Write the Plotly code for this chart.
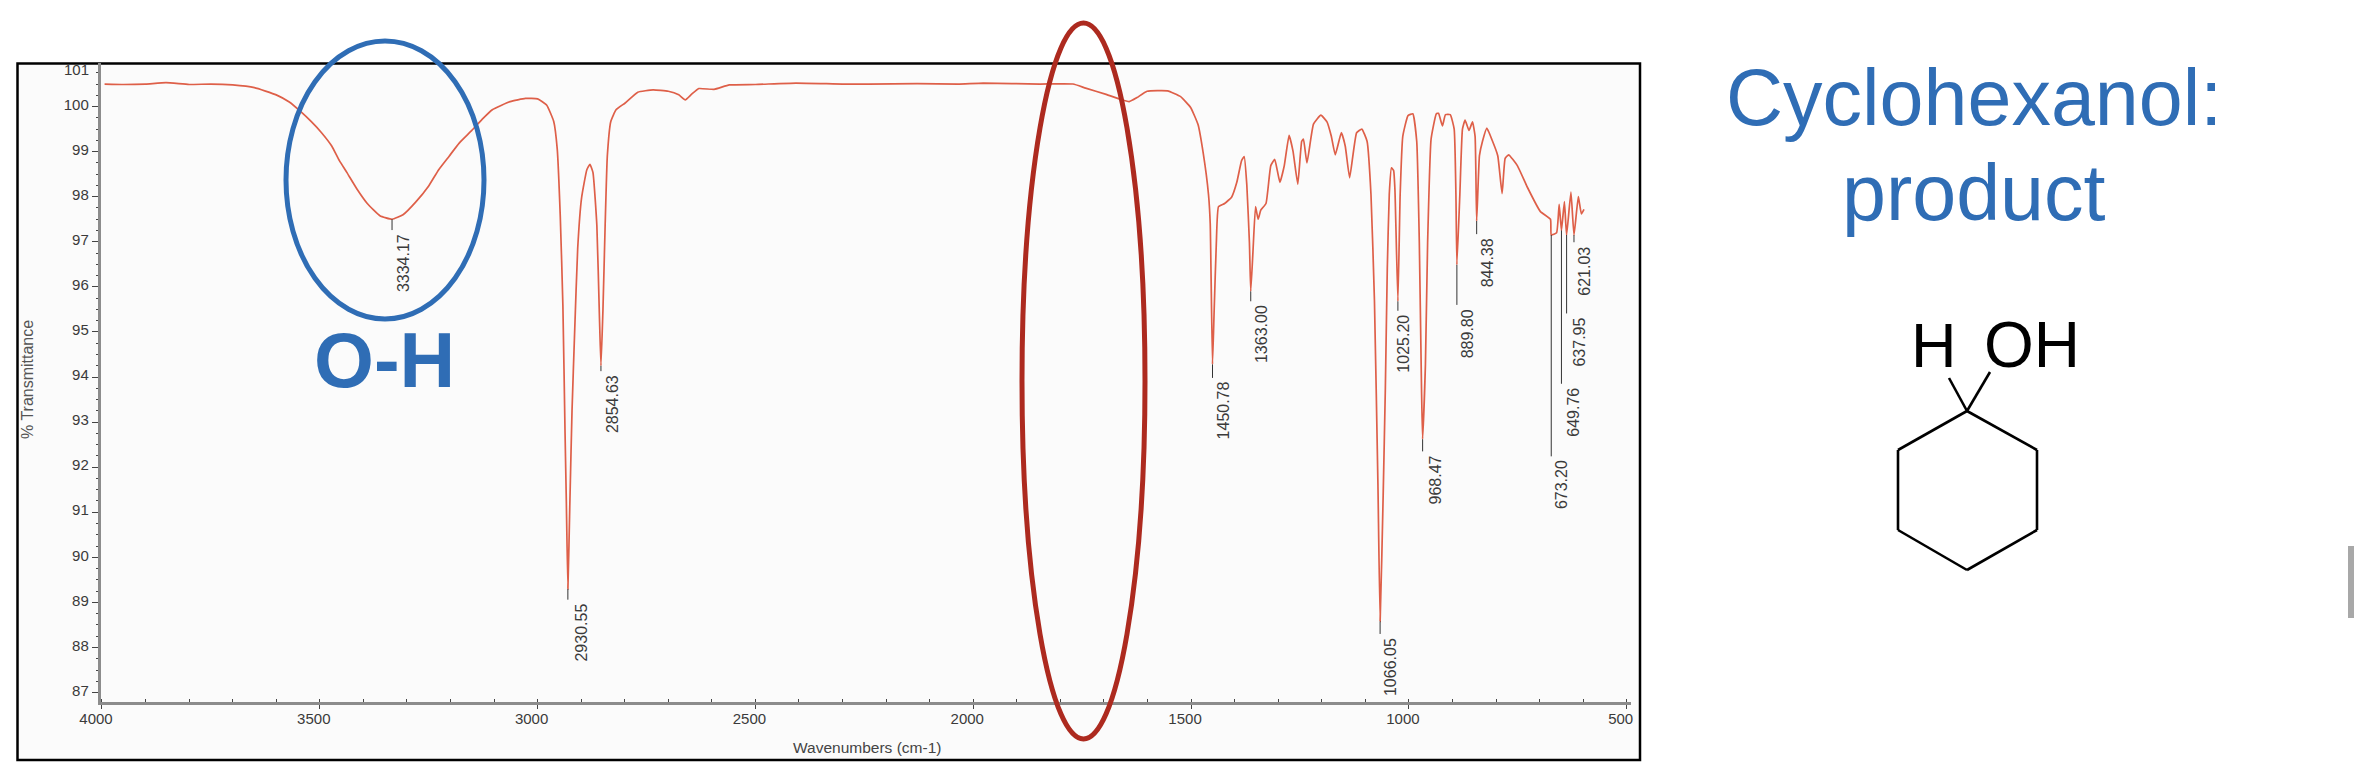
import plotly.graph_objects as go

W, H = 2360, 765

# Spectrum
wavenumber = [3994,3950,3900,3853,3800,3750,3700,3650,3600,3570,3543,3520,3496,3473,3455,3438,3414,3391,3362,3334,3309,3280,3250,3227,3203,3180,3151,3127,3104,3063,3028,3000,2979,2963,2955,2948,2942,2937,2934,2930.5,2926,2921,2915,2908,2899,2887,2880,2873,2864,2858,2854.6,2850,2845,2840,2832,2820,2799,2770,2735,2700,2676,2661,2647,2630,2595,2560,2500,2407,2300,2240,2129,2035,1977,1847,1771,1742,1695,1665,1642,1624,1601,1554,1524,1501,1484,1472,1460,1456,1450.8,1447,1442,1437,1423,1407,1395,1384,1378,1372,1366,1363,1358,1352,1346,1340,1328,1317,1308,1302,1296,1286,1275,1266,1255,1246,1242,1234,1219,1202,1188,1178,1169,1155,1146,1136,1120,1108,1096,1087,1079,1071,1066,1059,1054,1049.5,1045,1040,1035,1032,1025.2,1020,1014,1002,991,982,976,971,968.5,962,957,949,937,932,923,916,905,896,892,889.8,883,877,871,862,854,848,844.4,838,831,821,810,796,786,779,771,751,728,698,675,673.2,661,655,649.8,643,638,628,621,611,604,598]
transmittance = [100.50,100.49,100.50,100.53,100.49,100.50,100.48,100.42,100.26,100.10,99.88,99.67,99.42,99.13,98.80,98.54,98.16,97.85,97.58,97.50,97.60,97.88,98.24,98.60,98.90,99.19,99.47,99.72,99.93,100.11,100.18,100.17,100.03,99.67,99.06,97.57,95.60,92.75,91.20,89.30,91.20,93.26,95.00,96.85,97.98,98.60,98.72,98.54,97.36,95.31,94.25,95.50,97.36,98.90,99.67,99.93,100.08,100.32,100.37,100.34,100.26,100.15,100.27,100.40,100.38,100.48,100.49,100.52,100.50,100.50,100.51,100.50,100.52,100.50,100.50,100.41,100.27,100.17,100.11,100.20,100.34,100.35,100.22,99.98,99.60,98.96,98.05,97.40,94.28,95.47,96.97,97.78,97.85,97.99,98.32,98.80,98.89,98.26,96.97,95.90,96.76,97.78,97.50,97.70,97.85,98.69,98.83,98.58,98.32,98.69,99.36,99.01,98.28,99.23,99.28,98.75,99.61,99.81,99.66,99.34,98.93,99.42,99.12,98.42,99.42,99.50,99.23,98.05,95.68,91.60,88.58,91.38,93.75,96.43,98.05,98.64,98.58,98.15,95.68,98.05,99.34,99.80,99.84,99.23,96.97,93.75,92.62,94.28,96.97,99.28,99.84,99.85,99.57,99.82,99.82,99.50,98.05,96.49,98.05,99.50,99.70,99.47,99.66,99.34,97.46,98.91,99.23,99.52,99.28,98.91,98.07,98.85,98.93,98.69,98.21,97.67,97.50,97.15,97.20,97.83,97.25,97.89,97.15,98.10,97.15,98.00,97.62,97.72]

# Labelled peaks: wavenumber, %T at the peak, %T where the leader ends
peak_labels = ["3334.17","2930.55","2854.63","1450.78","1363.00","1066.05","1025.20","968.47","889.80","844.38","673.20","649.76","637.95","621.03"]
peak_wn = [3334.17,2930.55,2854.63,1450.78,1363.00,1066.05,1025.20,968.47,889.80,844.38,673.20,649.76,637.95,621.03]
peak_top = [97.50,89.30,94.25,94.28,95.90,88.58,95.68,92.62,96.49,97.46,97.15,97.25,97.15,97.15]
leader_end = [97.26,89.06,94.13,93.98,95.68,88.30,95.47,92.35,95.60,97.17,92.24,93.85,95.41,96.99]

x_ticks = [4000,3500,3000,2500,2000,1500,1000,500]
y_ticks = [100,99,98,97,96,95,94,93,92,91,90,89,88,87]

FONT = "Liberation Sans"
RED = "#DE5F48"
BLUE = "#2F6DB5"
DARKRED = "#AD2A1F"
TXT = "#3a3a3a"

def px(v): return v / W
def py(v): return 1 - v / H

def ellipse(x0, y0, x1, y1, color, width):
    return dict(type="circle", xref="paper", yref="paper", x0=px(x0), x1=px(x1),
                y0=py(y1), y1=py(y0), line=dict(color=color, width=width), layer="above")

def seg(x0, y0, x1, y1, color="black", width=2.6):
    return dict(type="line", xref="paper", yref="paper", x0=px(x0), x1=px(x1),
                y0=py(y0), y1=py(y1), line=dict(color=color, width=width), layer="above")

fig = go.Figure()
fig.add_trace(go.Scatter(x=wavenumber, y=transmittance, mode="lines",
                         line=dict(color=RED, width=1.7, shape="spline", smoothing=0.4), hoverinfo="skip"))
lx, ly = [], []
for w, a, b in zip(peak_wn, peak_top, leader_end):
    lx += [w, w, None]; ly += [a, b, None]
fig.add_trace(go.Scatter(x=lx, y=ly, mode="lines", line=dict(color="#333333", width=1), hoverinfo="skip"))

annotations = []
label_nudge = {"2930.55": 14, "1025.20": 6, "637.95": 13, "649.76": 12, "968.47": 13}
for t, w, b in zip(peak_labels, peak_wn, leader_end):
    annotations.append(dict(x=w, y=b, xref="x", yref="y", text=t, textangle=-90, showarrow=False,
                            xanchor="center", yanchor="top", xshift=label_nudge.get(t, 11), yshift=-2,
                            font=dict(family=FONT, size=16, color=TXT)))
annotations.append(dict(x=px(91), y=py(69), xref="paper", yref="paper", text="101", showarrow=False,
                        xanchor="right", yanchor="middle", font=dict(family=FONT, size=15, color=TXT)))
def note(xp, yp, text, size, color, bold=False, angle=0):
    annotations.append(dict(x=px(xp), y=py(yp), xref="paper", yref="paper", showarrow=False,
                            text=f"<b>{text}</b>" if bold else text, textangle=angle,
                            xanchor="center", yanchor="middle",
                            font=dict(family=FONT, size=size, color=color)))
note(384, 360, "O-H", 77, BLUE, bold=True)
note(1974, 97, "Cyclohexanol:", 79, BLUE)
note(1974, 192, "product", 79, BLUE)
note(1934, 345, "H", 63, "black")
note(2032, 345, "OH", 64, "black")
note(27, 380, "% Transmittance", 16, "#555555", angle=-90)
note(867, 747, "Wavenumbers (cm-1)", 15.5, "#444444")

hx, hy = -3, -3
sbx0, sbx1, sby0, sby1 = px(2348), px(2354), py(546), py(618)
shapes = [
    dict(type="rect", xref="paper", yref="paper", x0=px(17.5), x1=px(1640), y0=py(760), y1=py(63.5),
         line=dict(color="black", width=2.5), fillcolor="#fbfbfb", layer="below"),
    ellipse(286, 41, 484, 319, BLUE, 5),
    ellipse(1022, 23, 1145, 739, DARKRED, 5),
    seg(1970+hx, 414+hy, 2040+hx, 453+hy), seg(2040+hx, 453+hy, 2040+hx, 533+hy), seg(2040+hx, 533+hy, 1970+hx, 573+hy),
    seg(1970+hx, 573+hy, 1901+hx, 533+hy), seg(1901+hx, 533+hy, 1901+hx, 453+hy), seg(1901+hx, 453+hy, 1970+hx, 414+hy),
    seg(1970+hx, 414+hy, 1952+hx, 381+hy), seg(1970+hx, 414+hy, 1993+hx, 375+hy),
    dict(type="rect", xref="paper", yref="paper", x0=sbx0, x1=sbx1, y0=sby1, y1=sby0,
         line=dict(width=0), fillcolor="#a8a8a8", layer="above"),
]

axis_common = dict(showgrid=False, zeroline=False, showline=True, linecolor="#8c8c8c", linewidth=2.5,
                   ticks="outside", tickwidth=1.2, tickcolor="#444444", automargin=False,
                   tickfont=dict(family=FONT, size=15, color=TXT))

fig.update_layout(
    width=W, height=H, margin=dict(l=0, r=0, t=0, b=0, pad=0), showlegend=False,
    paper_bgcolor="white", plot_bgcolor="rgba(0,0,0,0)",
    shapes=shapes, annotations=annotations,
    xaxis=dict(domain=[px(100.5), px(1630.7)], range=[4003.4, 490.8], tickmode="array",
               tickvals=x_ticks, ticktext=[str(v) for v in x_ticks], ticklabelshift=6, ticklabelstandoff=-3,
               ticklen=4,
               minor=dict(dtick=100, ticks="inside", ticklen=3, tickwidth=1.2, tickcolor="#444444"),
               **axis_common),
    yaxis=dict(domain=[py(702), py(63.3)], range=[86.79, 100.96], tickmode="array",
               tickvals=y_ticks, ticktext=[str(v) for v in y_ticks], ticklabelshift=-2,
               ticklen=6,
               minor=dict(dtick=0.25, tick0=87, ticks="outside", ticklen=2, tickwidth=1.2, tickcolor="#444444"),
               **axis_common),
)

fig.write_html("out.html", config={"displayModeBar": False},
               post_script="document.body.style.margin='0';document.body.style.overflow='hidden';")
